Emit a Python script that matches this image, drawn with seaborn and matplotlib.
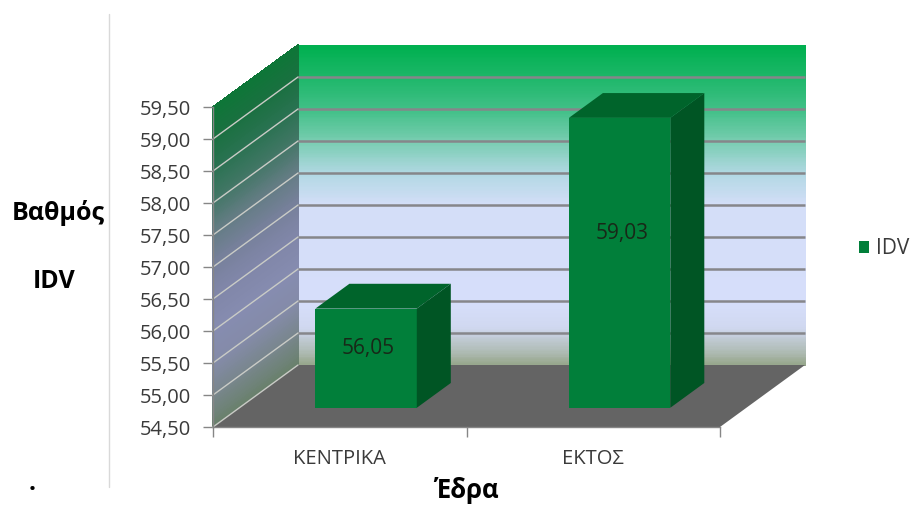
import matplotlib
matplotlib.use("Agg")
import matplotlib.pyplot as plt
import seaborn as sns
from matplotlib.collections import PolyCollection
from matplotlib.patches import Polygon, Patch
from matplotlib.colors import LinearSegmentedColormap
from matplotlib.lines import Line2D
from matplotlib.ticker import FuncFormatter, FixedLocator

# ---- data -------------------------------------------------------------
categories = ["ΚΕΝΤΡΙΚΑ", "ΕΚΤΟΣ"]
idv_scores = [56.05, 59.03]
series_name = "IDV"
y_ticks = [54.5, 55.0, 55.5, 56.0, 56.5, 57.0, 57.5, 58.0, 58.5, 59.0, 59.5]
x_title = "Έδρα"
y_title_lines = ["Βαθμός", "IDV"]

# ---- style ------------------------------------------------------------
sns.set_theme(style="white")
plt.rcParams["font.family"] = ["Open Sans", "DejaVu Sans"]

W, H = 911, 505
fig = plt.figure(figsize=(W / 100, H / 100), dpi=100)
fig.patch.set_facecolor("white")

# front plane of the 3-D box
ax_left, ax_right, ax_top, ax_bottom = 213, 720, 107, 427
ax = fig.add_axes([ax_left / W, 1 - ax_bottom / H,
                   (ax_right - ax_left) / W, (ax_bottom - ax_top) / H])
ax.set_facecolor("none")

X0, X1 = -0.5, 1.5
Y0, Y1 = y_ticks[0], y_ticks[-1]

# depth of the box (pixels) converted to data units
DEPTH_PX = (85, 62)
DX = DEPTH_PX[0] * (X1 - X0) / (ax_right - ax_left)
DY = DEPTH_PX[1] * (Y1 - Y0) / (ax_bottom - ax_top)


def proj(x, y, f):
    """Point (x, y) pushed back to depth fraction f."""
    return (x + DX * f, y + DY * f)


def rgb(*c):
    return tuple(v / 255 for v in c)


back_cmap = LinearSegmentedColormap.from_list("back", [
    (0.00, rgb(150, 166, 138)),
    (0.05, rgb(178, 190, 186)),
    (0.12, rgb(208, 216, 240)),
    (0.20, rgb(214, 222, 250)),
    (0.50, rgb(212, 222, 248)),
    (0.60, rgb(178, 216, 228)),
    (0.70, rgb(122, 205, 178)),
    (0.80, rgb(66, 192, 136)),
    (0.90, rgb(30, 183, 106)),
    (1.00, rgb(0, 176, 80)),
])
side_cmap = LinearSegmentedColormap.from_list("side", [
    (0.00, rgb(104, 128, 106)),
    (0.10, rgb(120, 134, 140)),
    (0.20, rgb(132, 139, 168)),
    (0.30, rgb(134, 140, 176)),
    (0.42, rgb(128, 134, 168)),
    (0.52, rgb(118, 128, 154)),
    (0.62, rgb(98, 124, 130)),
    (0.72, rgb(64, 118, 100)),
    (0.82, rgb(40, 114, 80)),
    (0.91, rgb(26, 112, 64)),
    (1.00, rgb(14, 118, 56)),
])

# ---- bars (front faces) ---------------------------------------------------
FRONT, TOP, SIDE = "#017f3a", "#00642b", "#005524"
F0, F1 = 0.31, 0.71
BAR_W = 0.4

sns.barplot(x=categories, y=idv_scores, color=FRONT, saturation=1, width=BAR_W,
            ax=ax, zorder=5)
bar_container = ax.containers[-1]

# ---- walls (gradient strips) -----------------------------------------
n = 240
step = (Y1 - Y0) / n
back_polys, back_cols, side_polys, side_cols = [], [], [], []
for i in range(n):
    v0 = Y0 + i * step
    v1 = v0 + step * 1.05
    t = (i + 0.5) / n
    back_polys.append([proj(X0, v0, 1), proj(X1, v0, 1), proj(X1, v1, 1), proj(X0, v1, 1)])
    back_cols.append(back_cmap(t))
    side_polys.append([proj(X0, v0, 0), proj(X0, v0, 1), proj(X0, v1, 1), proj(X0, v1, 0)])
    side_cols.append(side_cmap(t))

for polys, cols in ((back_polys, back_cols), (side_polys, side_cols)):
    pc = PolyCollection(polys, facecolors=cols, edgecolors=cols, linewidths=0.4,
                        antialiased=False, zorder=0.5, clip_on=False)
    ax.add_collection(pc)

# floor
floor = Polygon([proj(X0, Y0, 0), proj(X1, Y0, 0), proj(X1, Y0, 1), proj(X0, Y0, 1)],
                closed=True, facecolor="#646464", edgecolor="none", zorder=0.8, clip_on=False)
ax.add_patch(floor)

# gridlines on back wall and on side wall
for v in y_ticks[1:-1]:
    (bx0, by), (bx1, _) = proj(X0, v, 1), proj(X1, v, 1)
    ax.plot([bx0, bx1], [by, by], color="#86868a", lw=1.8, zorder=1, clip_on=False,
            solid_capstyle="butt")
for v in y_ticks[:-1]:
    p0, p1 = proj(X0, v, 0), proj(X0, v, 1)
    ax.plot([p0[0], p1[0]], [p0[1], p1[1]], color="#c9cbc6", lw=1.0, zorder=1, clip_on=False)

# ---- bars: depth, tops, sides, value labels --------------------------------
for patch, v in zip(bar_container, idv_scores):
    xl = patch.get_x()
    xr = xl + patch.get_width()
    fx, fy = proj(xl, Y0, F0)
    patch.set_x(fx)
    patch.set_y(fy)
    patch.set_height(v - Y0)
    patch.set_edgecolor("none")
    patch.set_clip_on(False)
    patch.set_zorder(5)
    top = Polygon([proj(xl, v, F0), proj(xr, v, F0), proj(xr, v, F1), proj(xl, v, F1)],
                  closed=True, facecolor=TOP, edgecolor="none", zorder=5, clip_on=False)
    side = Polygon([proj(xr, Y0, F0), proj(xr, v, F0), proj(xr, v, F1), proj(xr, Y0, F1)],
                   closed=True, facecolor=SIDE, edgecolor="none", zorder=5, clip_on=False)
    ax.add_patch(top)
    ax.add_patch(side)
    lx, ly = proj((xl + xr) / 2 + 0.01, Y0 + 0.6 * (v - Y0), F0)
    ax.text(lx, ly, f"{v:.2f}".replace(".", ","), ha="center", va="center",
            fontsize=15, color="#182818", zorder=6)

# ---- axes -------------------------------------------------------------
ax.set_xlim(X0, X1)
ax.set_ylim(Y0, Y1)
ax.set_xlabel("")
ax.set_ylabel("")
ax.grid(False)

AXIS_GREY = "#868686"
for s in ("top", "right"):
    ax.spines[s].set_visible(False)
for s in ("left", "bottom"):
    ax.spines[s].set_color(AXIS_GREY)
    ax.spines[s].set_linewidth(1.0)
    ax.spines[s].set_zorder(2)

ax.yaxis.set_major_locator(FixedLocator(y_ticks))
ax.yaxis.set_major_formatter(FuncFormatter(lambda v, _: f"{v:.2f}".replace(".", ",")))
ax.tick_params(axis="y", which="major", direction="out", length=7, width=1,
               color=AXIS_GREY, pad=9, labelsize=14.5, labelcolor="#3a3a3a", left=True)

ax.xaxis.set_major_locator(FixedLocator([X0, 0.5, X1]))
ax.xaxis.set_major_formatter(FuncFormatter(lambda v, _: ""))
ax.xaxis.set_minor_locator(FixedLocator([0, 1]))
ax.xaxis.set_minor_formatter(FuncFormatter(lambda v, _: categories[int(round(v))]))
ax.tick_params(axis="x", which="major", direction="out", length=7, width=1,
               color=AXIS_GREY, bottom=True)
ax.tick_params(axis="x", which="minor", length=0, pad=16, labelsize=14.5,
               labelcolor="#3a3a3a", bottom=True)

# ---- titles, legend, frame line ------------------------------------------
fig.text(58 / W, 1 - 213 / H, y_title_lines[0], ha="center", va="center",
         fontsize=18, fontweight="bold", color="black")
fig.text(54 / W, 1 - 281 / H, y_title_lines[1], ha="center", va="center",
         fontsize=18, fontweight="bold", color="black")
fig.text(467 / W, 1 - 491 / H, x_title, ha="center", va="center",
         fontsize=18.5, fontweight="bold", color="black")
fig.text(32 / W, 1 - 484 / H, ".", ha="center", va="center",
         fontsize=18, fontweight="bold", color="black")

fig.add_artist(Line2D([109 / W, 109 / W], [1 - 14 / H, 1 - 487 / H],
                      transform=fig.transFigure, color="#d9d9d9", lw=1.0))

fig.legend(handles=[Patch(facecolor=FRONT, edgecolor="none", label=series_name)],
           loc="center left", bbox_to_anchor=(859 / W, 1 - 249 / H), frameon=False,
           fontsize=15, handlelength=0.5, handleheight=0.5, handletextpad=0.3,
           labelcolor="#3a3a3a", borderaxespad=0, borderpad=0)

fig.savefig("out.png", dpi=100, facecolor="white")
